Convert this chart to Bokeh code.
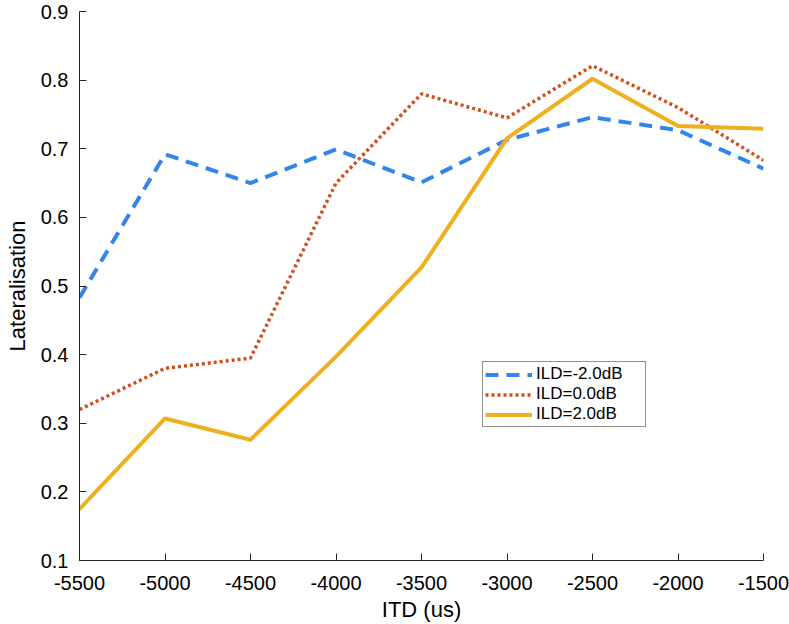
from bokeh.plotting import figure
from bokeh.models import Legend, LegendItem, FixedTicker, Range1d
from bokeh.embed import file_html
from bokeh.resources import INLINE

itd = [-5500, -5000, -4500, -4000, -3500, -3000, -2500, -2000, -1500]
ild_m2 = [0.483, 0.692, 0.650, 0.699, 0.651, 0.713, 0.746, 0.727, 0.671]
ild_0 = [0.320, 0.380, 0.395, 0.650, 0.780, 0.745, 0.821, 0.760, 0.683]
ild_2 = [0.175, 0.307, 0.276, 0.397, 0.527, 0.715, 0.802, 0.733, 0.729]
labels = ["ILD=-2.0dB", "ILD=0.0dB", "ILD=2.0dB"]
x_ticks = [-5500, -5000, -4500, -4000, -3500, -3000, -2500, -2000, -1500]
y_ticks = [0.1, 0.2, 0.3, 0.4, 0.5, 0.6, 0.7, 0.8, 0.9]

FONT = "Liberation Sans"
INK = "#262626"

p = figure(width=789, height=624, output_backend="svg", toolbar_location=None,
           x_range=Range1d(-5500, -1500), y_range=Range1d(0.1, 0.9),
           min_border_left=79, min_border_right=26, min_border_top=11, min_border_bottom=63)
p.outline_line_color = None
p.xgrid.visible = False
p.ygrid.visible = False
p.background_fill_color = "white"

r1 = p.line(itd, ild_m2, line_color="#3385EA", line_width=4, line_dash="13 8")
r2 = p.line(itd, ild_0, line_color="#D24E1D", line_width=3.5, line_dash="3 3")
r3 = p.line(itd, ild_2, line_color="#EDB120", line_width=4)

for ax in (p.xaxis[0], p.yaxis[0]):
    ax.axis_line_color = INK
    ax.major_tick_line_color = INK
    ax.major_tick_in = 7
    ax.major_tick_out = 0
    ax.minor_tick_line_color = None
    ax.major_label_text_font = FONT
    ax.major_label_text_font_size = "20px"
    ax.major_label_text_color = "black"
    ax.axis_label_text_font = FONT
    ax.axis_label_text_font_size = "22px"
    ax.axis_label_text_font_style = "normal"
    ax.axis_label_text_color = "black"

p.xaxis.ticker = FixedTicker(ticks=x_ticks)
p.yaxis.ticker = FixedTicker(ticks=y_ticks)
p.xaxis.major_label_overrides = {t: str(t) for t in x_ticks}
p.yaxis.major_label_overrides = {t: f"{t:.1f}" for t in y_ticks}
p.xaxis.axis_label = "ITD (us)"
p.yaxis.axis_label = "Lateralisation"
p.xaxis.major_label_text_line_height = 0.9
p.xaxis.axis_label_text_line_height = 0.9
p.xaxis.major_label_standoff = 15
p.yaxis.major_label_standoff = 11
p.xaxis.axis_label_standoff = 4
p.yaxis.axis_label_standoff = 8

legend = Legend(items=[LegendItem(label=labels[0], renderers=[r1]),
                       LegendItem(label=labels[1], renderers=[r2]),
                       LegendItem(label=labels[2], renderers=[r3])],
                location=(403, 133))
legend.label_text_font = FONT
legend.label_text_font_size = "17px"
legend.label_text_color = "black"
legend.border_line_color = INK
legend.border_line_width = 1
legend.padding = 2
legend.spacing = 0
legend.margin = 0
legend.glyph_width = 47
legend.glyph_height = 15
legend.label_height = 15
legend.label_width = 107
legend.label_standoff = 4
legend.background_fill_alpha = 1
p.add_layout(legend, "center")

open("out.html", "w").write(file_html(p, INLINE))
